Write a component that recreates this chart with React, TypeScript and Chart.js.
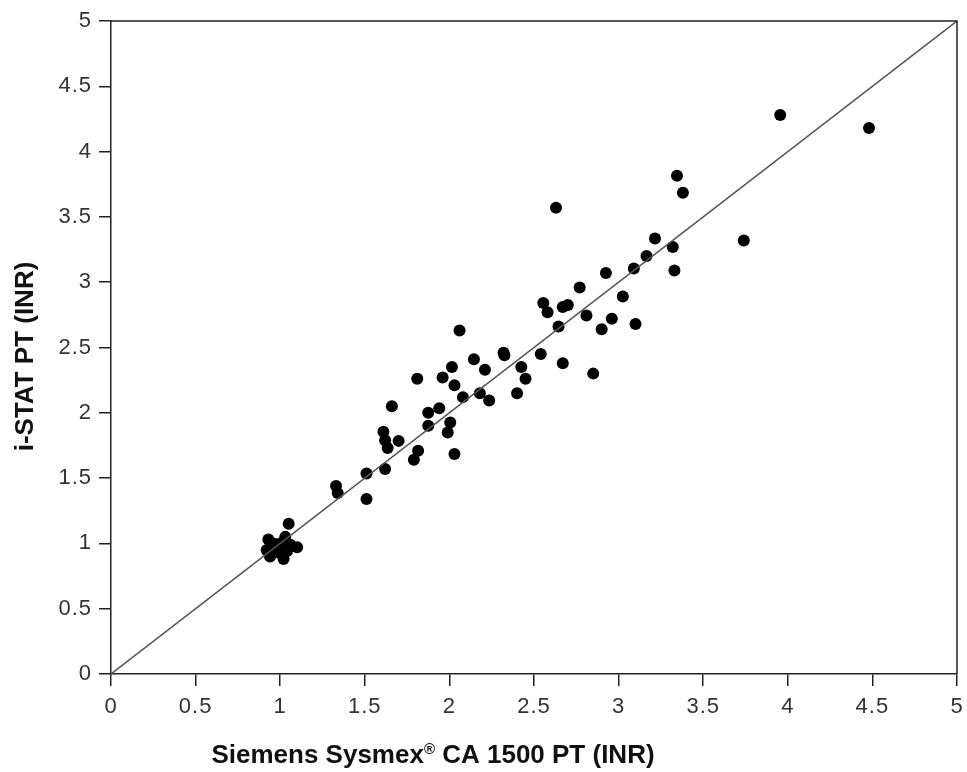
import React, { useEffect, useRef } from "react";
import { Chart, registerables } from "chart.js";

Chart.register(...registerables);

const siemensINR = [
  0.93, 0.92, 0.94, 0.97, 0.99, 1.0, 1.02, 1.03, 1.05, 1.06, 1.1, 0.96, 1.04,
  1.33, 1.34, 1.51, 1.51, 1.62, 1.61, 1.62, 1.635, 1.7, 1.66, 1.815, 1.79, 1.81,
  1.875, 1.94, 1.875, 2.005, 1.99, 2.03, 1.96, 2.03, 2.015, 2.06, 2.08, 2.145,
  2.18, 2.21, 2.235, 2.32, 2.325, 2.4, 2.425, 2.45, 2.54, 2.555, 2.58, 2.63,
  2.645, 2.67, 2.67, 2.7, 2.77, 2.81, 2.85, 2.9, 2.925, 2.96, 3.025, 3.09, 3.1,
  3.165, 3.215, 3.32, 3.33, 3.345, 3.38, 3.74, 3.955, 4.48,
];
const istatINR = [
  1.03, 0.95, 0.9, 0.98, 0.93, 1.0, 0.88, 1.05, 1.15, 0.99, 0.97, 1.0, 0.94,
  1.44, 1.385, 1.535, 1.34, 1.57, 1.855, 1.79, 1.73, 1.785, 2.05, 1.71, 1.64, 2.26,
  2.0, 2.035, 1.9, 1.925, 1.85, 1.685, 2.27, 2.21, 2.35, 2.63, 2.12, 2.41,
  2.15, 2.33, 2.095, 2.46, 2.44, 2.15, 2.35, 2.26, 2.45, 2.84, 2.77, 3.57,
  2.66, 2.81, 2.38, 2.825, 2.96, 2.745, 2.3, 2.64, 3.07, 2.72, 2.89, 3.105, 2.68,
  3.2, 3.335, 3.27, 3.09, 3.815, 3.685, 3.32, 4.28, 4.18,
];
const identityLine = [0, 5];
const tickValues = [0, 0.5, 1, 1.5, 2, 2.5, 3, 3.5, 4, 4.5, 5];
const tickLabels = ["0", "0.5", "1", "1.5", "2", "2.5", "3", "3.5", "4", "4.5", "5"];
const xTitleMain = "Siemens Sysmex";
const xTitleSup = "®";
const xTitleRest = " CA 1500 PT (INR)";
const yTitle = "i-STAT PT (INR)";

const FONT = "'Liberation Sans', Arial, Helvetica, sans-serif";

const labelFor = (v: number) => {
  const i = tickValues.findIndex((t) => Math.abs(t - v) < 1e-9);
  return i >= 0 ? tickLabels[i] : "";
};

export default function App() {
  const ref = useRef<HTMLCanvasElement | null>(null);

  useEffect(() => {
    document.body.style.margin = "0";
    const canvas = ref.current;
    if (!canvas) return;

    const framePlugin = {
      id: "frameAndTitles",
      beforeDraw(chart: any) {
        chart.ctx.letterSpacing = "1px";
      },
      afterDraw(chart: any) {
        const { ctx, chartArea } = chart;
        ctx.save();
        ctx.letterSpacing = "0px";
        ctx.strokeStyle = "#222";
        ctx.lineWidth = 1.5;
        ctx.beginPath();
        ctx.moveTo(chartArea.left, chartArea.top);
        ctx.lineTo(chartArea.right, chartArea.top);
        ctx.lineTo(chartArea.right, chartArea.bottom);
        ctx.stroke();

        // x title
        ctx.fillStyle = "#111";
        ctx.textBaseline = "alphabetic";
        const big = `bold 26px ${FONT}`;
        const small = `bold 15px ${FONT}`;
        ctx.font = big;
        const w1 = ctx.measureText(xTitleMain).width;
        const w3 = ctx.measureText(xTitleRest).width;
        ctx.font = small;
        const w2 = ctx.measureText(xTitleSup).width;
        const total = w1 + w2 + w3;
        const cx = 433;
        const baseY = 763;
        let x = cx - total / 2;
        ctx.textAlign = "left";
        ctx.font = big;
        ctx.fillText(xTitleMain, x, baseY);
        x += w1;
        ctx.font = small;
        ctx.fillText(xTitleSup, x, baseY - 9);
        x += w2;
        ctx.font = big;
        ctx.fillText(xTitleRest, x, baseY);

        // y title
        ctx.translate(26, (chartArea.top + chartArea.bottom) / 2 + 9);
        ctx.rotate(-Math.PI / 2);
        ctx.textAlign = "center";
        ctx.textBaseline = "middle";
        ctx.font = big;
        ctx.fillText(yTitle, 0, 0);
        ctx.restore();
      },
    };

    const axisCommon = {
      type: "linear" as const,
      min: 0,
      max: 5,
      afterBuildTicks: (scale: any) => {
        scale.ticks = tickValues.map((v) => ({ value: v }));
      },
      grid: {
        display: true,
        drawOnChartArea: false,
        drawTicks: true,
        tickLength: 12,
        color: "#222",
        lineWidth: 1.5,
      },
      border: { display: true, color: "#222", width: 1.5 },
    };

    const chart = new Chart(canvas, {
      type: "scatter",
      data: {
        datasets: [
          {
            type: "line",
            data: identityLine.map((v) => ({ x: v, y: v })),
            borderColor: "#555",
            borderWidth: 1.5,
            pointRadius: 0,
            fill: false,
          } as any,
          {
            data: siemensINR.map((v, i) => ({ x: v, y: istatINR[i] })),
            backgroundColor: "#000",
            borderColor: "#000",
            pointRadius: 6,
            pointBorderWidth: 0,
          },
        ],
      },
      options: {
        animation: false,
        responsive: false,
        maintainAspectRatio: false,
        layout: { padding: { left: 0, right: 10, top: 21, bottom: 0 } },
        plugins: {
          legend: { display: false },
          tooltip: { enabled: false },
        },
        scales: {
          x: {
            ...axisCommon,
            afterFit: (scale: any) => {
              scale.height = 98;
              scale.paddingRight = 0;
              scale.paddingLeft = 0;
            },
            ticks: {
              color: "#333",
              font: { family: FONT, size: 22 },
              padding: 8,
              maxRotation: 0,
              autoSkip: false,
              callback: (v: any) => labelFor(Number(v)),
            },
          },
          y: {
            ...axisCommon,
            afterFit: (scale: any) => {
              scale.width = 111;
              scale.paddingTop = 0;
              scale.paddingBottom = 0;
            },
            ticks: {
              color: "#333",
              font: { family: FONT, size: 22 },
              padding: 7,
              autoSkip: false,
              callback: (v: any) => labelFor(Number(v)),
            },
          },
        },
      },
      plugins: [framePlugin],
    });

    return () => chart.destroy();
  }, []);

  return (
    <canvas
      ref={ref}
      width={967}
      height={772}
      style={{ display: "block", width: 967, height: 772 }}
    />
  );
}
